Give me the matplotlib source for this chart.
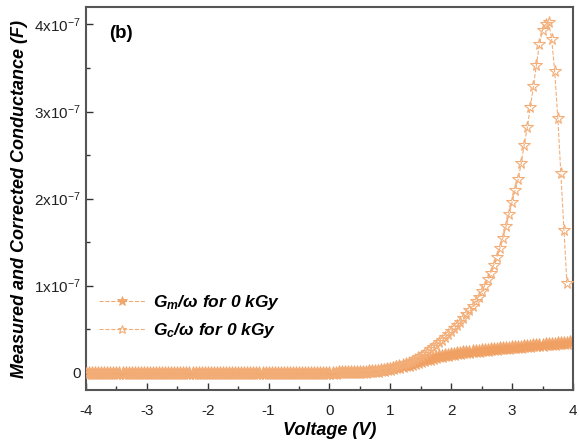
import matplotlib
matplotlib.use("Agg")
import matplotlib.pyplot as plt
from matplotlib.ticker import MultipleLocator, FuncFormatter
import numpy as np

plt.rcParams['font.family'] = ['Liberation Sans', 'DejaVu Sans']
plt.rcParams['mathtext.fontset'] = 'custom'
plt.rcParams['mathtext.rm'] = 'Liberation Sans'
plt.rcParams['mathtext.it'] = 'Liberation Sans:bold:italic'
plt.rcParams['mathtext.bf'] = 'Liberation Sans:bold'

SCALE = 1e-7

# Voltage sweep (V)
voltage = [
    -4.00, -3.95, -3.90, -3.85, -3.80, -3.75, -3.70, -3.65, -3.60, -3.55, -3.50, -3.45, -3.40, -3.35, -3.30, -3.25,
    -3.20, -3.15, -3.10, -3.05, -3.00, -2.95, -2.90, -2.85, -2.80, -2.75, -2.70, -2.65, -2.60, -2.55, -2.50, -2.45,
    -2.40, -2.35, -2.30, -2.25, -2.20, -2.15, -2.10, -2.05, -2.00, -1.95, -1.90, -1.85, -1.80, -1.75, -1.70, -1.65,
    -1.60, -1.55, -1.50, -1.45, -1.40, -1.35, -1.30, -1.25, -1.20, -1.15, -1.10, -1.05, -1.00, -0.95, -0.90, -0.85,
    -0.80, -0.75, -0.70, -0.65, -0.60, -0.55, -0.50, -0.45, -0.40, -0.35, -0.30, -0.25, -0.20, -0.15, -0.10, -0.05,
    0.00, 0.05, 0.10, 0.15, 0.20, 0.25, 0.30, 0.35, 0.40, 0.45, 0.50, 0.55, 0.60, 0.65, 0.70, 0.75,
    0.80, 0.85, 0.90, 0.95, 1.00, 1.05, 1.10, 1.15, 1.20, 1.25, 1.30, 1.35, 1.40, 1.45, 1.50, 1.55,
    1.60, 1.65, 1.70, 1.75, 1.80, 1.85, 1.90, 1.95, 2.00, 2.05, 2.10, 2.15, 2.20, 2.25, 2.30, 2.35,
    2.40, 2.45, 2.50, 2.55, 2.60, 2.65, 2.70, 2.75, 2.80, 2.85, 2.90, 2.95, 3.00, 3.05, 3.10, 3.15,
    3.20, 3.25, 3.30, 3.35, 3.40, 3.45, 3.50, 3.55, 3.60, 3.65, 3.70, 3.75, 3.80, 3.85, 3.90, 3.95,
]

# Measured conductance Gm/w (units of 1e-7 F)
gm = [
    0.000, 0.000, 0.000, 0.000, 0.000, 0.000, 0.000, 0.000, 0.000, 0.000, 0.000, 0.000, 0.000, 0.000, 0.000, 0.000,
    0.000, 0.000, 0.000, 0.000, 0.000, 0.000, 0.000, 0.000, 0.000, 0.000, 0.000, 0.000, 0.000, 0.000, 0.000, 0.000,
    0.000, 0.000, 0.000, 0.000, 0.000, 0.000, 0.000, 0.000, 0.000, 0.000, 0.000, 0.000, 0.000, 0.000, 0.000, 0.000,
    0.000, 0.000, 0.000, 0.000, 0.000, 0.000, 0.000, 0.000, 0.000, 0.000, 0.000, 0.000, 0.000, 0.000, 0.000, 0.000,
    0.000, 0.000, 0.000, 0.000, 0.000, 0.000, 0.000, 0.000, 0.000, 0.000, 0.000, 0.000, 0.000, 0.000, 0.000, 0.000,
    0.000, 0.001, 0.001, 0.002, 0.002, 0.003, 0.003, 0.004, 0.004, 0.005, 0.006, 0.008, 0.010, 0.013, 0.016, 0.020,
    0.024, 0.028, 0.033, 0.039, 0.045, 0.052, 0.059, 0.067, 0.075, 0.084, 0.093, 0.102, 0.112, 0.122, 0.132, 0.142,
    0.152, 0.161, 0.170, 0.178, 0.186, 0.193, 0.200, 0.206, 0.212, 0.218, 0.223, 0.228, 0.233, 0.238, 0.242, 0.246,
    0.250, 0.254, 0.258, 0.262, 0.265, 0.269, 0.272, 0.276, 0.279, 0.282, 0.285, 0.288, 0.291, 0.294, 0.297, 0.300,
    0.303, 0.306, 0.309, 0.312, 0.315, 0.318, 0.321, 0.324, 0.327, 0.330, 0.333, 0.336, 0.339, 0.342, 0.345, 0.347,
]

# Corrected conductance Gc/w (units of 1e-7 F), sweep ends at 3.90 V
gc = [
    0.000, 0.000, 0.000, 0.000, 0.000, 0.000, 0.000, 0.000, 0.000, 0.000, 0.000, 0.000, 0.000, 0.000, 0.000, 0.000,
    0.000, 0.000, 0.000, 0.000, 0.000, 0.000, 0.000, 0.000, 0.000, 0.000, 0.000, 0.000, 0.000, 0.000, 0.000, 0.000,
    0.000, 0.000, 0.000, 0.000, 0.000, 0.000, 0.000, 0.000, 0.000, 0.000, 0.000, 0.000, 0.000, 0.000, 0.000, 0.000,
    0.000, 0.000, 0.000, 0.000, 0.000, 0.000, 0.000, 0.000, 0.000, 0.000, 0.000, 0.000, 0.000, 0.000, 0.000, 0.000,
    0.000, 0.000, 0.000, 0.000, 0.000, 0.000, 0.000, 0.000, 0.000, 0.000, 0.000, 0.000, 0.000, 0.000, 0.000, 0.000,
    0.000, 0.001, 0.001, 0.002, 0.002, 0.003, 0.003, 0.004, 0.004, 0.005, 0.005, 0.007, 0.010, 0.013, 0.016, 0.020,
    0.025, 0.031, 0.037, 0.044, 0.052, 0.061, 0.071, 0.083, 0.095, 0.108, 0.122, 0.138, 0.155, 0.175, 0.196, 0.218,
    0.242, 0.268, 0.295, 0.322, 0.350, 0.378, 0.408, 0.440, 0.473, 0.508, 0.545, 0.585, 0.628, 0.672, 0.718, 0.766,
    0.818, 0.874, 0.935, 1.000, 1.070, 1.150, 1.240, 1.330, 1.430, 1.550, 1.680, 1.820, 1.960, 2.100, 2.220, 2.410,
    2.620, 2.820, 3.050, 3.290, 3.540, 3.770, 3.940, 4.000, 4.030, 3.830, 3.460, 2.930, 2.290, 1.640, 1.030,
]

xticks = [-4, -3, -2, -1, 0, 1, 2, 3, 4]
yticks = [0, 1, 2, 3, 4]
label_m = r'G$_{m}$/$\omega$ for 0 kGy'
label_c = r'G$_{c}$/$\omega$ for 0 kGy'

col_m = '#F0A062'
col_c = '#F3AE78'

fig = plt.figure(figsize=(5.79, 4.42), dpi=100)
ax = fig.add_axes([0.1485, 0.1176, 0.8411, 0.8664])

vm = np.array(voltage)
ax.plot(vm, np.array(gm) * SCALE, linestyle='--', linewidth=0.8, color=col_m,
        marker='*', markersize=10.5, markerfacecolor=col_m, markeredgecolor=col_m,
        markeredgewidth=0.6, alpha=0.9, label=label_m, zorder=2)
ax.plot(vm[:len(gc)], np.array(gc) * SCALE, linestyle='--', linewidth=0.8, color=col_c,
        marker='*', markersize=8.5, markerfacecolor='none', markeredgecolor=col_c,
        markeredgewidth=0.8, label=label_c, zorder=3)

ax.set_xlim(-4, 4)
ax.set_ylim(-0.2 * SCALE, 4.2 * SCALE)
ax.set_xticks(xticks)
ax.set_yticks([t * SCALE for t in yticks])
ax.xaxis.set_minor_locator(MultipleLocator(0.5))
ax.yaxis.set_minor_locator(MultipleLocator(0.5 * SCALE))


def yfmt(v, pos):
    n = int(round(v / SCALE))
    if n == 0:
        return '0'
    return r'%dx10$^{\mathregular{-7}}$' % n


ax.yaxis.set_major_formatter(FuncFormatter(yfmt))
ax.xaxis.set_major_formatter(FuncFormatter(lambda v, p: '%d' % v))

ax.tick_params(which='both', direction='in', top=False, right=False,
               colors='#333333', labelcolor='#222222', labelsize=11, width=1.0)
ax.tick_params(which='major', length=5)
ax.tick_params(which='minor', length=3)
ax.tick_params(axis='x', pad=10)
ax.tick_params(axis='y', pad=4)
for s in ax.spines.values():
    s.set_color('#555555')
    s.set_linewidth(1.5)

ax.set_xlabel('Voltage (V)', fontsize=13, fontweight='bold', fontstyle='italic', labelpad=3)
ax.set_ylabel('Measured and Corrected Conductance (F)', fontsize=13,
              fontweight='bold', fontstyle='italic', labelpad=4)

ax.text(0.047, 0.932, '(b)', transform=ax.transAxes, fontsize=13.5,
        fontweight='bold', ha='left', va='center')

leg = ax.legend(loc='upper left', bbox_to_anchor=(0.012, 0.272), frameon=False,
                borderaxespad=0, handlelength=2.7, handletextpad=0.4, markerscale=0.75,
                labelspacing=0.55, prop={'size': 12.5, 'weight': 'bold', 'style': 'italic'})

fig.savefig('out.png', dpi=100)
